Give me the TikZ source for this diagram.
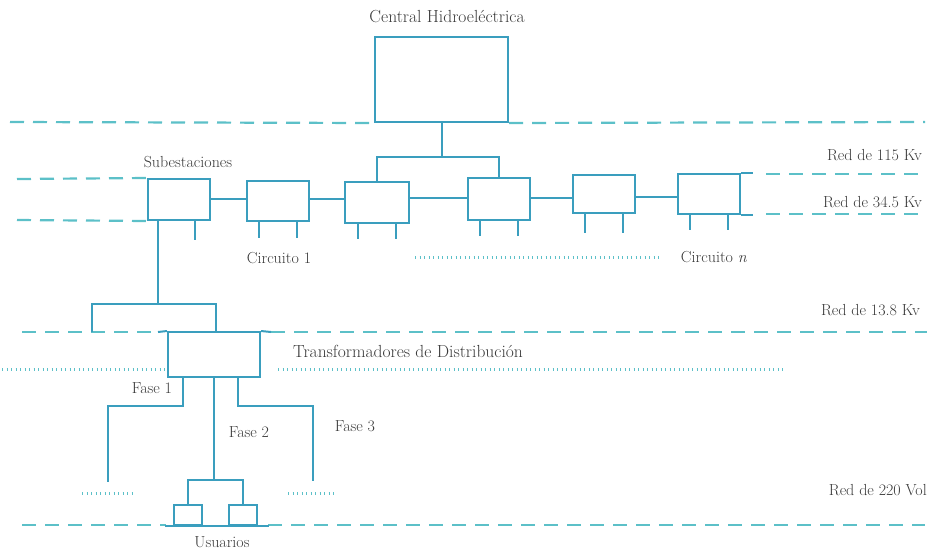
\documentclass[tikz,border=0pt]{standalone}
\usepackage{fontspec}
\definecolor{boxc}{HTML}{3A9EBE}
\definecolor{dashc}{HTML}{5CC0C8}
\definecolor{txtc}{HTML}{3A3A3A}
\begin{document}
\begin{tikzpicture}[x=1pt,y=-1pt,
  bx/.style={draw=boxc,line width=2pt,inner sep=0pt,fill=none},
  wire/.style={draw=boxc,line width=2pt},
  thin/.style={draw=boxc,line width=2pt},
  net/.style={draw=dashc,line width=2.2pt,dash pattern=on 14pt off 9pt},
  dots/.style={draw=dashc,line width=3pt,dash pattern=on 1pt off 3.5pt},
  lbl/.style={text=txtc,font=\fontsize{16}{18}\selectfont,inner sep=1pt},
  big/.style={font=\fontsize{17.5}{20}\selectfont}]
\useasboundingbox (0,0) rectangle (932,550);
% boxes
\node[bx,minimum width=133pt,minimum height=85pt] (top) at (441.5,79.5) {};
\node[bx,minimum width=62pt,minimum height=41pt] (b1) at (179,199.5) {};
\node[bx,minimum width=62pt,minimum height=40pt] (b2) at (278,201) {};
\node[bx,minimum width=64pt,minimum height=41pt] (b3) at (377,202.5) {};
\node[bx,minimum width=62pt,minimum height=42pt] (b4) at (499,199) {};
\node[bx,minimum width=62pt,minimum height=38pt] (b5) at (604,194) {};
\node[bx,minimum width=62pt,minimum height=40pt] (b6) at (709,194) {};
\node[bx,minimum width=92pt,minimum height=45pt] (tr) at (214,354.5) {};
\node[bx,minimum width=28pt,minimum height=20pt] (u1) at (188,515) {};
\node[bx,minimum width=28pt,minimum height=20pt] (u2) at (243,515) {};
% coordinates
\coordinate (j1) at (441.5,157);
\coordinate (j2) at (158,304);
\coordinate (l4a) at (92,332);
\coordinate (j3) at (214,480);
\coordinate (f1) at (108,482);
\coordinate (f3) at (313,481);
% network lines
\draw[net] (10,122) -- (top.south west);
\draw[net] (top.south east) -- (925,122);
\draw[net] (17,179) -- (b1.north west);
\draw[net] (766,174) -- (923,174);
\draw[net] (17,220) -- (b1.south west);
\draw[net] (766,214) -- (923,214);
\draw[net] (22,332) -- (158,332);
\draw[net] (271,332) -- (927,332);
\draw[net] (22,525) -- (166,525);
\draw[net] (268,525) -- (925,525);
\draw[wire] (158,332) -- (tr.north west);
\draw[wire] (tr.north east) -- (271,332);
% dotted lines
\draw[dots] (415,257) -- (661,257);
\draw[dots] (2,369) -- (tr.west |- 0,369);
\draw[dots] (278,369) -- (783,369);
\draw[dots] (82,493) -- (132,493);
\draw[dots] (288,493) -- (337,493);
% tree from central
\draw[wire] (top.south) -- (j1);
\draw[wire] (b3.north) |- (j1) -| (b4.north);
% links between substations
\draw[wire] (b1.east |- 0,199) -- (b2.west |- 0,199);
\draw[wire] (b2.east |- 0,199) -- (b3.west |- 0,199);
\draw[wire] (b3.east |- 0,198) -- (b4.west |- 0,198);
\draw[wire] (b4.east |- 0,198) -- (b5.west |- 0,198);
\draw[wire] (b5.east |- 0,197) -- (b6.west |- 0,197);
\draw[wire] (b6.north east) -- ++(12,0);
\draw[wire] (b6.south east) -- ++(12,0);
% tails
\draw[thin] ([xshift=16]b1.south) -- ++(0,19);
\foreach \b/\l in {b2/16,b3/15,b4/15,b5/19,b6/15}{
  \draw[thin] ([xshift=-19]\b.south) -- ++(0,\l);
  \draw[thin] ([xshift=19]\b.south) -- ++(0,\l);
}
% to distribution
\draw[thin] ([xshift=-21]b1.south) -- (j2);
\draw[thin] (l4a) |- (j2) -| ([xshift=2]tr.north);
% phases
\draw[thin] ([xshift=-31]tr.south) -- ++(0,28) -| (f1);
\draw[thin] ([xshift=24]tr.south) -- ++(0,28) -| (f3);
\draw[thin] (tr.south) -- (j3);
\draw[thin] (u1.north) |- (j3) -| (u2.north);
\draw[wire] ([xshift=-8]u1.south west) -- ([xshift=11]u2.south east);
% labels
\node[lbl,big] (tc) at (447,17) {Central Hidroeléctrica};
\node[lbl] (ts) at (188,162) {Subestaciones};
\node[lbl,anchor=east] (r1) at (923,155) {Red de 115 Kv};
\node[lbl,anchor=east] (r2) at (923,202) {Red de 34.5 Kv};
\node[lbl,anchor=east] (r3) at (921,310) {Red de 13.8 Kv};
\node[lbl,anchor=east] (r4) at (928,490) {Red de 220 Vol};
\node[lbl] (c1) at (279,258) {Circuito 1};
\node[lbl] (cn) at (714,257) {Circuito \textit{n}};
\node[lbl,big,anchor=west] (td) at (292,351) {Transformadores de Distribución};
\node[lbl] (p1) at (152,388) {Fase 1};
\node[lbl] (p2) at (249,432) {Fase 2};
\node[lbl] (p3) at (355,426) {Fase 3};
\node[lbl] (us) at (222,542) {Usuarios};
\end{tikzpicture}
\end{document}
